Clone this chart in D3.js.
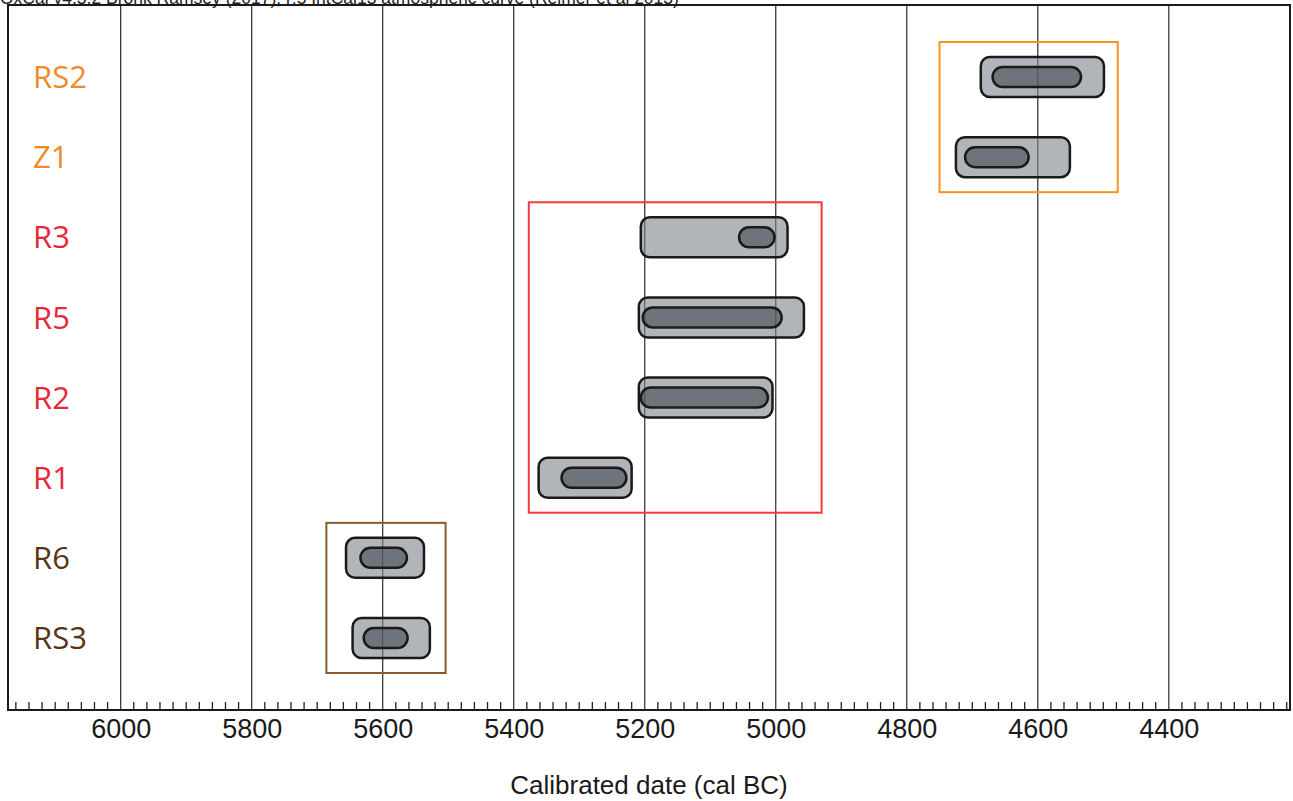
<!DOCTYPE html>
<html>
<head>
<meta charset="utf-8">
<script src="https://cdn.jsdelivr.net/npm/d3@7"></script>
<style>
  body { margin: 0; background: #fff; }
  svg { display: block; }
</style>
</head>
<body>
<div id="chart"></div>
<script>
// sample labels, top to bottom
const samples = ["RS2", "Z1", "R3", "R5", "R2", "R1", "R6", "RS3"];
// 95.4% range (cal BC)
const outerFrom = [4687, 4725, 5206, 5209, 5209, 5362, 5656, 5646];
const outerTo   = [4499, 4551, 4982, 4957, 5005, 5220, 5537, 5528];
// 68.2% range (cal BC)
const innerFrom = [4669, 4711, 5056, 5203, 5206, 5327, 5634, 5629];
const innerTo   = [4534, 4614, 5002, 4991, 5012, 5228, 5563, 5562];
// group of each sample
const sampleGroup = ["late", "late", "mid", "mid", "mid", "mid", "early", "early"];

// group boxes
const groupNames = ["late", "mid", "early"];
const groupFrom  = [4750, 5377, 5686];
const groupTo    = [4478, 4930, 5504];
const groupFirst = ["RS2", "R3", "R6"];
const groupLast  = ["Z1", "R1", "RS3"];

const majorTicks = [6000, 5800, 5600, 5400, 5200, 5000, 4800, 4600, 4400];

const headerText = "OxCal v4.3.2 Bronk Ramsey (2017); r:5 IntCal13 atmospheric curve (Reimer et al 2013)";
const xTitle = "Calibrated date (cal BC)";

const W = 1293, H = 801;
const plot = {left: 8, right: 1290, top: 5, bottom: 710};

const boxColor   = {late: "#f7941d", mid: "#ef3b3b", early: "#8b5a2b"};
const labelColor = {late: "#f08a2a", mid: "#e8283a", early: "#573418"};

const svg = d3.select("#chart").append("svg")
    .attr("width", W).attr("height", H);

const x = d3.scaleLinear().domain([6172, 4215]).range([plot.left, plot.right]);
const y = d3.scalePoint().domain(samples).range([77, 638]);

// header (partly hidden above the frame, as in the source)
svg.append("text")
    .attr("x", 0).attr("y", 4)
    .style("font-family", "Arial, 'Liberation Sans', sans-serif")
    .style("font-size", "17.5px")
    .attr("fill", "#222")
    .text(headerText);

// vertical grid lines
svg.append("g").selectAll("line")
    .data(majorTicks)
    .join("line")
    .attr("x1", d => x(d)).attr("x2", d => x(d))
    .attr("y1", plot.top).attr("y2", plot.bottom)
    .attr("stroke", "#2a2a2a").attr("stroke-width", 1.2);

// minor ticks every 20 years
const minorTicks = d3.range(4220, 6180, 20).filter(d => d % 200 !== 0);
svg.append("g").selectAll("line")
    .data(minorTicks)
    .join("line")
    .attr("x1", d => x(d)).attr("x2", d => x(d))
    .attr("y1", plot.bottom - 8).attr("y2", plot.bottom)
    .attr("stroke", "#222").attr("stroke-width", 1.3);

// group boxes
const pad = 35;
svg.append("g").selectAll("rect")
    .data(groupNames)
    .join("rect")
    .attr("x", (d, i) => x(groupFrom[i]))
    .attr("width", (d, i) => x(groupTo[i]) - x(groupFrom[i]))
    .attr("y", (d, i) => y(groupFirst[i]) - pad)
    .attr("height", (d, i) => y(groupLast[i]) - y(groupFirst[i]) + 2 * pad)
    .attr("fill", "none")
    .attr("stroke", d => boxColor[d])
    .attr("stroke-width", 2);

// outer ranges
const bars = svg.append("g");
bars.selectAll("rect.outer")
    .data(samples)
    .join("rect")
    .attr("class", "outer")
    .attr("x", (d, i) => x(outerFrom[i]))
    .attr("width", (d, i) => x(outerTo[i]) - x(outerFrom[i]))
    .attr("y", d => y(d) - 20)
    .attr("height", 40)
    .attr("rx", 9)
    .attr("fill", "rgba(125,132,140,0.6)")
    .attr("stroke", "#1a1a1a").attr("stroke-width", 2.5);

// inner ranges
bars.selectAll("rect.inner")
    .data(samples)
    .join("rect")
    .attr("class", "inner")
    .attr("x", (d, i) => x(innerFrom[i]))
    .attr("width", (d, i) => x(innerTo[i]) - x(innerFrom[i]))
    .attr("y", d => y(d) - 10)
    .attr("height", 20)
    .attr("rx", 10)
    .attr("fill", "rgba(70,76,84,0.62)")
    .attr("stroke", "#1a1a1a").attr("stroke-width", 2.5);

// sample labels
svg.append("g").selectAll("text")
    .data(samples)
    .join("text")
    .attr("x", 33)
    .attr("y", d => y(d))
    .attr("dy", "0.36em")
    .style("font-family", "'Open Sans', 'Noto Sans', sans-serif")
    .style("font-size", "31px")
    .style("font-weight", 500)
    .attr("fill", (d, i) => labelColor[sampleGroup[i]])
    .text(d => d);

// frame
svg.append("rect")
    .attr("x", plot.left).attr("y", plot.top)
    .attr("width", plot.right - plot.left).attr("height", plot.bottom - plot.top)
    .attr("fill", "none").attr("stroke", "#1a1a1a").attr("stroke-width", 2);

// x axis labels
const xAxis = d3.axisBottom(x).tickValues(majorTicks).tickSize(0).tickPadding(0).tickFormat(d3.format("d"));
const gx = svg.append("g")
    .attr("transform", `translate(0,${plot.bottom})`)
    .call(xAxis);
gx.select(".domain").remove();
gx.selectAll("text")
    .attr("dy", "1.05em")
    .style("font-family", "Arial, 'Liberation Sans', sans-serif")
    .style("font-size", "27px")
    .attr("fill", "#1a1a1a");

svg.append("text")
    .attr("x", (plot.left + plot.right) / 2)
    .attr("y", 794)
    .attr("text-anchor", "middle")
    .style("font-family", "Arial, 'Liberation Sans', sans-serif")
    .style("font-size", "26px")
    .attr("fill", "#1a1a1a")
    .text(xTitle);
</script>
</body>
</html>
